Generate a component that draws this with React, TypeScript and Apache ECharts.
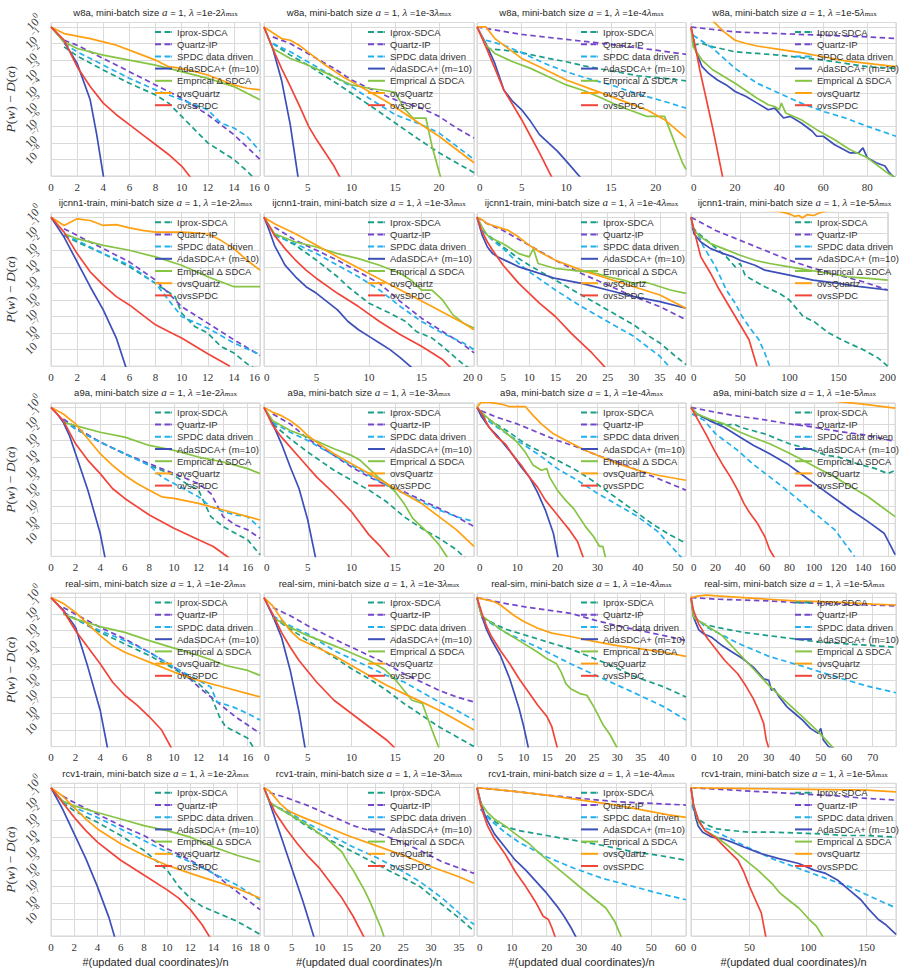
import React, { useEffect, useRef } from 'react';
import * as echarts from 'echarts';

// ---------- labels ----------
const SERIES_NAMES = ['Iprox-SDCA', 'Quartz-IP', 'SPDC data driven', 'AdaSDCA+ (m=10)', 'Emprical Δ SDCA', 'ovsQuartz', 'ovsSPDC'];
const SERIES_COLORS = ['#1a9e88', '#7446c9', '#22b0ee', '#3d4fb8', '#86c443', '#ffa010', '#f2453a'];
const SERIES_DASHED = [true, true, true, false, false, false, false];
const DATASETS = ['w8a', 'ijcnn1-train', 'a9a', 'real-sim', 'rcv1-train'];
const LAMBDAS = ['1e-2', '1e-3', '1e-4', '1e-5'];
const X_MAX = [[16, 24, 23.4, 93], [16, 20, 40, 200], [17, 24, 52, 166], [17, 24, 44.7, 79], [18, 37.7, 60, 175]];
const X_STEP = [[2, 5, 5, 20], [2, 5, 5, 50], [2, 5, 10, 20], [2, 5, 5, 10], [2, 5, 10, 50]];
const Y_EXP_MIN = -9; // 10^-9
const Y_EXP_MAX = 0.27;

// ---------- data: [x, log10(P(w)-D(alpha))], order = SERIES_NAMES ----------
const w8a_1e2 = [
  [[1,-1.2],[2,-1.75],[4,-2.6],[6,-3.4],[8,-4.1],[9,-4.6],[10,-5.4],[11,-6.2],[12,-7.0],[13,-7.5],[14,-8.0],[15,-8.7],[15.5,-9.1]],
  [[1,-0.8],[2,-1.1],[4,-1.9],[6,-2.7],[8,-3.5],[10,-4.3],[12,-5.3],[14,-6.5],[16,-8.0]],
  [[1,-1.0],[2,-1.5],[4,-2.3],[6,-3.1],[8,-3.8],[10,-4.4],[12,-5.0],[13,-5.8],[14,-6.1],[15,-6.6],[16,-7.5]],
  [[0,0],[1,-0.9],[2,-2.2],[3,-4.4],[3.5,-6.5],[4.05,-9.2]],
  [[0,0],[1,-0.9],[2,-1.3],[4,-1.7],[6,-2.0],[8,-2.3],[10,-2.7],[12,-3.1],[14,-3.6],[16,-4.4]],
  [[0,0],[1,-0.4],[2,-0.55],[3,-0.7],[4,-0.9],[5,-1.1],[6,-1.4],[7,-1.7],[8,-2.0],[9,-2.4],[10,-2.5],[11,-2.7],[12,-2.9],[13,-3.2],[14,-3.5],[15,-3.7],[16,-3.8]],
  [[0,0],[1,-0.8],[2,-2.4],[3,-3.6],[4,-4.6],[5,-5.3],[6,-5.9],[7,-6.5],[8,-7.1],[9,-7.7],[10,-8.4],[10.7,-9.1]],
];
const w8a_1e3 = [
  [[1,-1.0],[3,-1.7],[5,-2.3],[8,-3.3],[10,-4.0],[12,-4.7],[15,-5.8],[18,-6.9],[20,-7.6],[22,-8.2],[24,-8.8]],
  [[1,-0.6],[3,-1.0],[5,-1.6],[8,-2.5],[10,-3.2],[12,-3.7],[15,-4.4],[18,-4.9],[20,-5.4],[22,-6.1],[24,-6.7]],
  [[1,-1.0],[3,-1.5],[5,-2.1],[8,-3.0],[10,-3.6],[12,-4.3],[15,-5.3],[18,-5.9],[20,-6.4],[22,-7.2],[24,-8.0]],
  [[0,0],[1,-1.3],[2,-3.2],[3,-5.9],[3.9,-9.1]],
  [[0,0],[1,-1.3],[3,-1.9],[5,-2.3],[8,-3.0],[10,-3.5],[12,-3.7],[14,-3.85],[15,-3.95],[16,-4.9],[17,-5.5],[18.5,-5.5],[19.2,-7.2],[20.2,-9.1]],
  [[0,0],[1,-0.35],[2,-0.7],[3,-0.8],[4,-1.1],[5,-1.5],[7,-2.3],[9,-3.0],[10,-3.3],[12,-3.9],[14,-4.5],[16,-5.2],[18,-5.9],[20,-6.6],[22,-7.4],[24,-8.2]],
  [[0,0],[1,-1.3],[2,-2.5],[2.84,-3.4],[4,-4.7],[5.1,-6.0],[6,-6.8],[7,-7.6],[8,-8.4],[8.7,-9.1]],
];
const w8a_1e4 = [
  [[1,-1.3],[3,-1.4],[5,-1.55],[8,-1.9],[10,-2.1],[12,-2.35],[15,-2.65],[18,-2.95],[21,-3.1],[23.4,-3.25]],
  [[0,0],[5,-0.45],[10,-0.75],[15,-1.05],[20,-1.4],[23.4,-1.65]],
  [[1,-0.8],[3,-1.1],[5,-1.55],[8,-2.3],[10,-2.7],[12,-3.05],[15,-3.5],[18,-4.05],[21,-4.5],[23.4,-4.9]],
  [[0,0],[1,-1.0],[2,-2.2],[3,-3.8],[4,-4.5],[5,-5.0],[6,-5.7],[7,-6.5],[8,-7.0],[9,-7.5],[10,-8.1],[11.6,-9.1]],
  [[0,0],[1,-1.1],[2,-1.6],[4,-2.1],[6,-2.5],[8,-3.0],[10,-3.5],[12,-3.85],[14,-4.3],[16,-4.8],[18,-5.2],[19,-5.4],[21,-5.4],[22,-6.8],[23,-8.2],[23.4,-8.6]],
  [[0,0],[1,0],[2,-0.7],[3,-1.1],[5,-1.9],[7,-2.4],[10,-3.2],[13,-3.8],[16,-4.4],[19,-5.0],[21,-5.6],[23.4,-6.7]],
  [[0,0],[1,-1.2],[2,-2.5],[3,-3.8],[4,-4.7],[5,-5.6],[6,-6.6],[7,-7.6],[8.4,-9.1]],
];
const w8a_1e5 = [
  [[1,-1.1],[5,-1.0],[10,-1.2],[20,-1.5],[30,-1.6],[40,-1.7],[50,-1.85],[60,-2.0],[70,-2.2],[80,-2.4],[93,-2.5]],
  [[0,0],[20,-0.3],[40,-0.4],[60,-0.5],[80,-0.6],[93,-0.7]],
  [[1,-0.5],[10,-1.3],[20,-2.5],[30,-3.4],[40,-4.0],[50,-4.6],[60,-5.1],[70,-5.5],[80,-6.0],[93,-6.6]],
  [[0,0],[2,-1.4],[5,-2.4],[8,-2.8],[12,-3.2],[16,-3.5],[20,-3.9],[25,-4.2],[30,-4.6],[35,-5.0],[38,-4.9],[42,-5.5],[45,-5.4],[50,-5.8],[55,-6.3],[57,-6.6],[60,-6.6],[65,-7.1],[72,-7.6],[76,-7.6],[78,-7.3],[80,-7.9],[84,-8.2],[88,-8.4],[90,-8.8],[93,-9.2]],
  [[0,0],[1,-1.2],[3,-1.6],[5,-2.0],[10,-2.6],[20,-3.4],[30,-4.3],[35,-4.7],[38,-4.8],[40,-5.0],[41,-4.6],[43,-5.2],[50,-5.6],[57,-6.2],[65,-6.8],[72,-7.4],[80,-7.9],[90,-8.9],[93,-9.1]],
  [[0,1.2],[5,0.8],[10,0.35],[15,-0.3],[20,-0.8],[25,-1.0],[30,-1.15],[40,-1.35],[50,-1.55],[60,-1.8],[70,-2.05],[80,-2.2],[93,-2.4]],
  [[0,0],[1,-0.6],[2,-1.2],[4,-2.6],[6,-3.8],[8,-5.0],[10,-6.2],[12,-7.5],[14.4,-9.1]],
];
const ijcnn1_1e2 = [
  [[1,-1.1],[2,-1.5],[4,-2.2],[6,-3.0],[8,-4.0],[9.5,-4.8],[10,-5.8],[11,-6.6],[12,-7.0],[13,-7.8],[14,-8.2],[15,-8.85],[15.5,-9.1]],
  [[1,-0.7],[2,-1.1],[4,-1.9],[6,-2.7],[8,-3.8],[10,-5.4],[12,-6.4],[14,-7.4],[16,-8.35]],
  [[1,-1.1],[2,-1.4],[4,-2.2],[6,-2.9],[8,-4.0],[10,-6.0],[12,-6.7],[14,-7.6],[16,-8.3]],
  [[0,0],[1,-1.2],[2,-2.7],[3,-4.2],[4,-5.6],[5,-7.3],[5.75,-9.1]],
  [[1,-1.0],[2,-1.3],[4,-1.7],[6,-2.0],[8,-2.4],[10,-2.9],[12,-3.6],[13,-3.9],[14,-4.2],[16,-4.2]],
  [[0,0],[1,-0.5],[2,-0.1],[3,-0.2],[4,-0.5],[5,-0.45],[6,-0.65],[7,-0.8],[8,-0.9],[9,-0.9],[10,-0.9],[11,-0.95],[12,-1.0],[13,-1.4],[14,-1.9],[15,-2.6],[16,-3.2]],
  [[0,0],[1,-0.9],[2,-2.2],[3,-3.3],[4,-4.1],[5,-4.8],[6,-5.3],[7,-5.9],[8,-6.5],[9,-6.9],[10,-7.3],[12,-8.25],[13.7,-9.0]],
];
const ijcnn1_1e3 = [
  [[1,-1.0],[3,-1.7],[5,-2.6],[7,-3.6],[8,-4.2],[10,-5.2],[12,-5.8],[13.5,-6.3],[14.5,-6.9],[16,-7.3],[17,-7.8],[19,-8.9],[19.5,-9.1]],
  [[1,-0.6],[3,-1.4],[5,-2.0],[7,-2.6],[9,-3.3],[11,-4.0],[13,-5.1],[15,-6.1],[17,-6.9],[19,-7.7],[20,-8.2]],
  [[1,-1.1],[3,-1.6],[5,-2.2],[7,-2.9],[9,-3.6],[11,-4.4],[13,-5.4],[15,-6.3],[17,-7.0],[19,-7.6],[20,-8.0]],
  [[0,0],[0.5,-0.8],[1,-1.7],[2,-2.9],[3,-3.6],[4,-4.2],[5,-4.6],[6,-5.1],[7,-5.6],[8,-6.3],[9,-6.8],[10,-7.2],[11,-7.6],[12,-8.0],[13,-8.5],[14.1,-9.1]],
  [[0,0],[1,-1.0],[3,-1.5],[5,-1.8],[7,-2.2],[9,-2.5],[11,-2.9],[13,-3.4],[14,-3.8],[15,-4.4],[16,-4.4],[17,-5.0],[18,-5.9],[19,-6.4],[20,-6.7]],
  [[0,0],[1,-0.4],[3,-1.0],[5,-1.7],[7,-2.4],[10,-3.4],[13,-4.4],[16,-5.4],[19,-6.4],[20,-6.8]],
  [[0,0],[1,-1.1],[2,-1.9],[3,-2.6],[4,-3.2],[5,-3.7],[7,-4.6],[9,-5.4],[11,-6.3],[13,-7.1],[15,-7.8],[17,-8.6],[17.8,-9.1]],
];
const ijcnn1_1e4 = [
  [[1,-0.8],[3,-1.3],[5,-1.8],[8,-2.5],[10,-2.9],[15,-3.8],[20,-4.7],[25,-5.6],[30,-6.5],[33,-7.2],[35,-7.6],[38,-8.4],[40,-8.9]],
  [[0,0],[2,-0.4],[5,-0.8],[10,-1.7],[15,-2.6],[20,-3.4],[25,-4.1],[30,-4.8],[35,-5.4],[40,-6.2]],
  [[1,-0.8],[3,-1.4],[5,-1.9],[8,-2.8],[10,-3.3],[15,-4.4],[20,-5.4],[25,-6.3],[30,-7.2],[35,-8.4],[37,-9.1]],
  [[0,0],[1,-1.1],[2,-1.8],[3,-2.2],[4,-2.4],[6,-2.7],[8,-3.0],[10,-3.2],[15,-3.7],[20,-4.0],[25,-4.4],[30,-4.8],[35,-5.1],[40,-5.5]],
  [[0,0],[1,-0.6],[2,-1.1],[3,-1.3],[5,-1.6],[8,-2.2],[10,-2.4],[10.8,-1.9],[11.7,-2.8],[15,-3.1],[18,-3.2],[21,-3.3],[23,-3.4],[25,-3.6],[28,-3.8],[30,-4.0],[32,-3.9],[34,-4.1],[37,-4.4],[40,-4.6]],
  [[0,0],[1,-0.15],[2,-0.4],[4,-0.6],[6,-0.8],[8,-1.2],[10,-1.7],[12,-2.1],[15,-2.6],[20,-3.2],[25,-3.7],[30,-4.2],[35,-4.7],[40,-5.5]],
  [[0,0],[1,-0.9],[2,-1.5],[3,-2.0],[5,-2.9],[8,-4.0],[10,-4.6],[12,-5.2],[15,-6.0],[18,-7.0],[20,-7.6],[22,-8.2],[24.6,-9.1]],
];
const ijcnn1_1e5 = [
  [[1,-0.6],[10,-1.1],[20,-1.6],[30,-2.1],[36,-2.4],[45,-3.0],[50,-2.8],[55,-3.5],[60,-3.7],[75,-4.2],[90,-4.6],[100,-5.0],[114,-6.0],[125,-6.3],[140,-7.0],[160,-7.6],[175,-8.0],[190,-8.5],[200,-9.0]],
  [[0,0],[25,-0.8],[50,-1.4],[75,-2.0],[100,-2.6],[125,-3.1],[150,-3.5],[175,-3.9],[200,-4.4]],
  [[1,-0.7],[7,-1.0],[12,-1.7],[17,-2.2],[25,-3.0],[36,-4.4],[45,-5.2],[52,-6.0],[60,-6.7],[69,-7.4],[75,-8.2],[80,-9.0]],
  [[0,0],[3,-1.0],[10,-1.5],[20,-1.9],[33,-2.2],[43,-2.4],[50,-2.6],[65,-2.9],[75,-3.2],[100,-3.5],[124,-3.8],[150,-4.0],[172,-4.2],[200,-4.4]],
  [[0,0],[3,-0.8],[10,-1.2],[20,-1.6],[33,-1.9],[50,-2.3],[65,-2.6],[80,-2.8],[100,-3.0],[120,-3.2],[140,-3.4],[160,-3.6],[180,-3.7],[200,-3.8]],
  [[0,0.6],[50,0.5],[90,0.35],[100,0.2],[105,0.05],[110,0.1],[113,-0.05],[118,0.15],[125,0.1],[130,0.25],[140,0.4],[200,0.5]],
  [[0,0],[4,-1.0],[10,-2.4],[20,-3.4],[27,-4.2],[35,-5.0],[43,-5.8],[50,-6.5],[59,-7.4],[67,-9.0]],
];
const a9a_1e2 = [
  [[1,-0.8],[2,-1.3],[4,-2.1],[6,-2.8],[8,-3.5],[10,-4.1],[11,-4.6],[12,-5.0],[13,-6.6],[14,-7.2],[15,-7.6],[16,-8.0],[17,-8.9]],
  [[1,-0.7],[2,-1.2],[4,-2.1],[6,-2.8],[8,-3.4],[10,-4.0],[12,-4.6],[13,-5.2],[14,-6.6],[15,-7.1],[16,-7.4],[17,-7.9]],
  [[1,-0.8],[2,-1.3],[4,-2.1],[6,-2.8],[8,-3.5],[9,-4.2],[10,-4.6],[12,-5.4],[13,-6.0],[14,-6.3],[15,-6.5],[16,-6.6],[17,-7.3]],
  [[0,0],[0.5,-0.4],[1,-0.9],[1.5,-1.7],[2,-2.8],[3,-5.0],[4,-7.6],[4.4,-9.1]],
  [[1,-0.9],[2,-1.1],[4,-1.5],[6,-1.8],[8,-2.3],[10,-2.6],[12,-3.0],[14,-3.3],[16,-3.7],[17,-4.0]],
  [[0,0],[1,-0.4],[2,-1.0],[3,-1.9],[4,-2.8],[5,-3.5],[6,-4.1],[7,-4.6],[8,-5.0],[9,-5.4],[10,-5.5],[12,-5.8],[14,-6.2],[16,-6.6],[17,-6.8]],
  [[0,0],[1,-0.8],[2,-2.2],[3,-3.2],[4,-4.0],[5,-4.9],[6,-5.5],[8,-6.5],[10,-7.3],[12,-8.0],[13.2,-8.4],[14.5,-9.1]],
];
const a9a_1e3 = [
  [[1,-1.0],[3,-1.9],[5,-2.7],[8,-3.8],[10,-4.4],[12,-5.0],[14,-5.7],[16,-6.6],[18,-7.3],[20,-7.9],[22,-8.6],[23,-9.1]],
  [[1,-0.4],[3,-1.0],[5,-1.9],[8,-2.9],[10,-3.6],[12,-4.2],[14,-4.7],[16,-5.1],[18,-5.6],[20,-6.1],[22,-6.6],[24,-7.2]],
  [[1,-0.9],[3,-1.5],[5,-2.0],[8,-2.9],[10,-3.5],[12,-4.1],[14,-4.7],[16,-5.2],[18,-5.7],[20,-6.2],[22,-6.6],[24,-6.9]],
  [[0,0],[1,-1.0],[2,-2.2],[3,-3.6],[4,-4.9],[5,-6.8],[5.9,-9.1]],
  [[0,0],[1,-0.8],[3,-1.4],[5,-1.8],[8,-2.5],[10,-2.9],[11,-3.2],[12,-3.7],[13,-4.2],[14,-4.6],[15,-5.1],[16,-5.8],[17,-6.7],[18,-7.2],[19,-7.7],[20,-8.3],[21,-9.1]],
  [[0,0],[1,-0.3],[2,-0.5],[3,-0.8],[4,-1.2],[5,-1.7],[6,-2.1],[8,-2.8],[10,-3.4],[12,-4.0],[14,-4.6],[16,-5.2],[18,-5.8],[20,-6.6],[22,-7.4],[24,-8.4]],
  [[0,0],[1,-1.1],[2,-1.8],[4,-3.0],[6,-4.2],[8,-5.2],[10,-6.3],[11,-7.0],[12,-7.7],[13.3,-8.4],[14.4,-9.1]],
];
const a9a_1e4 = [
  [[1,-0.4],[4,-0.9],[8,-1.5],[12,-2.2],[16,-2.7],[20,-3.2],[24,-3.7],[28,-4.3],[32,-5.0],[36,-5.7],[40,-6.4],[44,-7.1],[48,-7.7],[52,-8.2]],
  [[1,-0.2],[5,-0.6],[10,-1.0],[15,-1.5],[20,-2.0],[25,-2.4],[30,-2.9],[35,-3.3],[40,-3.8],[45,-4.3],[52,-5.0]],
  [[1,-0.5],[5,-1.2],[10,-2.0],[15,-2.8],[20,-3.7],[25,-4.4],[30,-5.2],[35,-5.9],[40,-6.6],[45,-7.5],[51,-9.1]],
  [[0,0],[1,-0.5],[3,-1.2],[5,-1.7],[7,-2.3],[9,-2.9],[11,-3.6],[13,-4.2],[15,-5.1],[17,-6.2],[19,-7.6],[20.2,-9.1]],
  [[0,0],[2,-0.5],[5,-1.1],[8,-1.7],[10,-2.1],[12,-2.7],[14,-3.5],[16,-3.8],[17.4,-3.7],[18,-4.2],[20,-5.0],[22,-5.6],[24,-6.1],[27,-7.2],[29,-7.8],[30.5,-8.4],[31.3,-8.4],[32,-9.1]],
  [[0,0],[1,0.3],[3,0.3],[6,0.2],[8,0.05],[10,0.05],[12,0.05],[14,-0.5],[16,-1.0],[19,-1.6],[23,-2.1],[27,-2.6],[31,-3.0],[35,-3.4],[40,-3.8],[45,-4.1],[52,-4.4]],
  [[0,0],[1,-0.3],[3,-1.2],[5,-1.8],[7,-2.2],[9,-2.9],[11,-3.5],[13,-4.2],[15,-4.8],[17,-5.6],[19,-6.2],[21,-6.8],[23,-7.4],[25,-8.1],[26.5,-9.1]],
];
const a9a_1e5 = [
  [[1,-0.4],[10,-0.6],[20,-0.9],[28,-1.1],[35,-1.0],[40,-1.2],[50,-1.4],[60,-1.6],[70,-1.9],[80,-2.2],[90,-2.4],[100,-2.6],[110,-2.9],[120,-3.0],[135,-3.4],[150,-3.7],[160,-4.0],[166,-3.8]],
  [[0,0],[20,-0.3],[40,-0.55],[60,-0.75],[80,-1.0],[100,-1.2],[120,-1.45],[140,-1.65],[166,-2.05]],
  [[1,-0.4],[11,-0.8],[20,-1.6],[38,-2.6],[50,-3.4],[64,-4.2],[78,-5.0],[91,-5.8],[104,-6.6],[117,-7.4],[125,-8.2],[133,-9.0]],
  [[0,0],[5,-0.4],[15,-0.8],[27,-1.2],[40,-1.8],[51,-2.3],[64,-2.8],[78,-3.4],[91,-4.1],[104,-4.8],[117,-5.5],[130,-6.2],[144,-6.9],[157,-7.6],[162,-8.3],[166,-8.9]],
  [[0,0],[5,-0.4],[15,-0.7],[27,-1.0],[40,-1.5],[50,-1.8],[64,-2.2],[78,-2.7],[91,-3.2],[104,-3.7],[117,-4.2],[130,-4.8],[144,-5.4],[155,-6.0],[166,-6.6]],
  [[0,1.2],[40,0.9],[80,0.65],[120,0.35],[140,0.2],[166,-0.05]],
  [[0,0],[3,-0.4],[6,-0.8],[12,-1.6],[19,-2.6],[26,-3.5],[32,-4.2],[38,-5.0],[43,-5.8],[48,-6.4],[54,-7.0],[60,-7.8],[64,-8.6],[68,-9.1]],
];
const realsim_1e2 = [
  [[1,-0.9],[2,-1.3],[4,-2.1],[6,-2.8],[8,-3.5],[10,-4.3],[12,-5.2],[13,-5.9],[13.7,-7.2],[14.2,-7.8],[15,-8.1],[16,-8.5],[16.5,-9.1]],
  [[1,-0.6],[2,-1.0],[4,-1.8],[6,-2.5],[8,-3.3],[10,-4.2],[11,-4.7],[12,-5.4],[13,-6.0],[14,-6.6],[15,-7.2],[16,-7.7],[17,-8.2]],
  [[1,-0.9],[2,-1.3],[4,-2.0],[6,-2.6],[8,-3.3],[10,-4.2],[12,-5.0],[13,-5.4],[13.5,-6.3],[14.8,-6.6],[16,-7.0],[17,-7.4]],
  [[0,0],[1,-0.75],[2,-1.8],[3,-4.2],[4,-6.8],[4.6,-9.1]],
  [[1,-1.0],[2,-1.3],[4,-1.75],[6,-2.1],[8,-2.6],[10,-3.05],[12,-3.5],[13.2,-3.8],[14.2,-4.1],[16,-4.4],[17,-4.7]],
  [[0,0],[1,-0.35],[2,-0.9],[3,-1.6],[4,-2.3],[5,-2.9],[6,-3.3],[7,-3.6],[8,-3.9],[10,-4.5],[12,-5.0],[14,-5.4],[16,-5.8],[17,-6.0]],
  [[0,0],[1,-0.8],[2,-2.0],[3,-3.0],[4,-4.0],[5,-5.1],[6,-5.9],[7,-6.5],[8,-7.2],[9,-8.0],[9.8,-9.1]],
];
const realsim_1e3 = [
  [[1,-1.2],[3,-1.9],[5,-2.6],[8,-3.6],[10,-4.3],[12,-4.9],[14,-5.6],[16,-6.4],[18,-7.1],[20,-7.8],[22,-8.4],[24,-9.0]],
  [[1,-0.6],[3,-1.1],[5,-1.7],[8,-2.5],[10,-3.0],[12,-3.5],[14,-4.0],[16,-4.6],[18,-5.1],[20,-5.6],[22,-6.0],[24,-6.3]],
  [[1,-1.1],[3,-1.7],[5,-2.2],[8,-3.2],[10,-3.7],[12,-4.2],[14,-4.7],[16,-5.1],[18,-5.7],[20,-6.3],[22,-6.8],[24,-7.4]],
  [[0,0],[1,-1.1],[2,-2.4],[3,-4.4],[4,-6.9],[4.7,-9.1]],
  [[1,-1.2],[3,-1.8],[5,-2.3],[8,-2.9],[10,-3.35],[12,-3.8],[13.8,-4.35],[15,-4.95],[16.9,-6.2],[18.1,-6.4],[19.2,-8.0],[20,-9.1]],
  [[0,0],[1,-0.5],[2,-1.3],[3,-2.0],[4,-2.5],[6,-3.0],[8,-3.5],[10,-4.1],[12,-4.7],[14,-5.3],[16,-5.8],[18,-6.3],[20,-6.8],[22,-7.4],[24,-8.0]],
  [[0,0],[1,-1.0],[2,-2.1],[3,-3.0],[4,-3.8],[6,-5.1],[8,-6.2],[10,-7.0],[12,-7.8],[14,-8.6],[15,-9.1]],
];
const realsim_1e4 = [
  [[1,-1.2],[6,-1.9],[13,-2.5],[20,-3.1],[27,-3.9],[34,-4.8],[40,-5.4],[44.7,-6.0]],
  [[0,0],[5,-0.3],[10,-0.55],[15,-0.75],[20,-0.95],[25,-1.35],[30,-1.7],[35,-2.0],[40,-2.3],[44.7,-2.6]],
  [[1,-1.2],[6,-2.1],[13,-3.0],[20,-4.0],[27,-4.9],[34,-5.8],[40,-6.6],[44.7,-7.4]],
  [[0,0],[0.5,-0.6],[1,-1.1],[2,-1.9],[3,-2.5],[4,-3.0],[5,-3.5],[6,-4.2],[7,-4.9],[8,-5.8],[9,-6.7],[10,-7.8],[11,-9.1]],
  [[0,0],[1,-1.1],[3,-1.5],[6,-2.1],[9,-2.6],[13,-3.3],[15,-3.7],[17,-4.0],[18,-4.5],[19,-5.2],[20,-5.5],[22,-5.8],[23.5,-5.9],[25,-6.6],[27,-7.7],[28.5,-8.3],[30,-9.1]],
  [[0,0],[3.7,-0.25],[5,-0.45],[8,-1.1],[10,-1.45],[13,-1.85],[16,-2.15],[20,-2.35],[25,-2.65],[30,-2.9],[35,-3.1],[40,-3.3],[44.7,-3.55]],
  [[0,0],[1,-0.9],[2,-1.7],[3,-2.3],[5,-3.2],[7,-4.0],[9,-4.9],[11,-5.7],[13,-6.5],[15,-7.2],[16,-7.8],[17.2,-9.1]],
];
const realsim_1e5 = [
  [[1,-1.2],[5,-1.6],[10,-1.8],[20,-2.1],[30,-2.3],[40,-2.5],[50,-2.7],[60,-2.8],[70,-2.9],[79,-3.0]],
  [[0,0],[10,-0.1],[20,-0.15],[30,-0.2],[40,-0.3],[50,-0.35],[60,-0.4],[70,-0.45],[79,-0.5]],
  [[1,-1.1],[5,-1.7],[10,-2.1],[18,-2.75],[30,-3.55],[43,-4.15],[55,-4.75],[68,-5.35],[79,-5.75]],
  [[0,0],[1,-1.2],[3,-1.95],[5,-2.2],[8,-2.4],[12,-2.9],[16,-3.3],[20,-3.7],[24,-4.2],[28,-4.9],[30,-5.0],[31,-5.6],[32,-5.5],[34,-6.0],[37,-6.6],[40,-7.0],[43,-7.4],[46,-7.9],[49,-8.2],[50,-7.9],[51,-8.6],[53,-9.0],[55,-9.1]],
  [[0,0],[1,-1.2],[5,-1.6],[12,-2.3],[18,-3.3],[24,-4.3],[30,-5.3],[36,-6.2],[43,-7.2],[49,-8.1],[55,-9.1]],
  [[0,0],[3,0.1],[6,0.15],[10,0.1],[20,0.0],[30,-0.1],[40,-0.2],[50,-0.25],[60,-0.3],[70,-0.4],[79,-0.45]],
  [[0,0],[1,-0.8],[3,-1.6],[6,-2.4],[9,-3.0],[13,-3.8],[18,-4.6],[21,-5.3],[24,-6.1],[26,-6.8],[28,-7.6],[29,-8.6],[30,-9.1]],
];
const rcv1_1e2 = [
  [[1,-0.9],[2,-1.4],[4,-2.1],[6,-2.9],[8,-3.8],[9,-4.4],[10,-5.0],[11,-6.0],[12,-6.7],[13,-7.2],[14,-7.5],[16,-8.1],[18,-8.9]],
  [[1,-0.5],[2,-0.9],[4,-1.6],[6,-2.3],[8,-2.9],[10,-3.7],[12,-4.4],[14,-5.2],[16,-6.3],[18,-7.4]],
  [[1,-0.8],[2,-1.2],[4,-1.8],[6,-2.5],[8,-3.2],[10,-3.9],[12,-4.5],[14,-5.2],[16,-5.9],[18,-6.8]],
  [[0,0],[1,-1.3],[2,-2.8],[3,-4.3],[4,-6.0],[5,-7.9],[5.5,-9.1]],
  [[0,0],[1,-0.8],[2,-1.1],[4,-1.5],[6,-1.9],[8,-2.3],[10,-2.6],[12,-3.0],[14,-3.6],[16,-4.1],[18,-4.5]],
  [[0,0],[1,-0.5],[2,-1.2],[3,-1.9],[4,-2.5],[6,-3.4],[8,-4.1],[10,-4.7],[12,-5.2],[14,-5.65],[16,-6.1],[18,-6.7]],
  [[0,0],[1,-0.9],[2,-1.8],[3,-2.6],[4,-3.3],[6,-4.4],[8,-5.3],[10,-6.2],[11,-6.7],[12,-7.4],[13,-8.3],[13.7,-9.1]],
];
const rcv1_1e3 = [
  [[1,-0.9],[4,-1.5],[8,-2.4],[12,-3.2],[16,-3.9],[20,-4.6],[24,-5.3],[28,-6.0],[32,-7.1],[35,-7.9],[37.7,-8.7]],
  [[1,-0.3],[4,-0.6],[8,-1.1],[12,-1.7],[16,-2.3],[20,-2.7],[24,-3.2],[28,-3.8],[32,-4.5],[37.7,-5.2]],
  [[1,-1.0],[4,-1.4],[8,-2.2],[12,-2.9],[16,-3.6],[20,-4.2],[24,-4.9],[28,-5.7],[32,-6.7],[35,-7.6],[37.7,-8.3]],
  [[0,0],[1,-0.9],[2,-1.9],[3,-2.9],[4,-3.9],[5,-4.9],[6,-5.9],[7,-6.9],[8,-8.0],[9,-9.1]],
  [[0,0],[1,-0.9],[3,-1.3],[5,-1.7],[8,-2.3],[10,-2.8],[12,-3.3],[14,-3.9],[15,-4.5],[16,-5.0],[17,-5.6],[18,-6.2],[19,-6.9],[20,-7.7],[21,-8.5],[21.6,-9.1]],
  [[0,0],[1,-0.2],[2,-0.6],[3,-1.0],[4,-1.3],[5,-1.5],[7,-1.8],[10,-2.2],[15,-2.9],[20,-3.5],[25,-4.1],[30,-4.8],[35,-5.4],[37.7,-5.8]],
  [[0,0],[1,-0.8],[2,-1.5],[4,-2.5],[6,-3.4],[8,-4.2],[10,-4.9],[12,-5.8],[14,-6.7],[16,-7.8],[18,-9.1]],
];
const rcv1_1e4 = [
  [[1,-1.3],[4,-1.9],[7,-2.3],[12,-2.6],[20,-2.9],[28,-3.2],[36,-3.5],[45,-3.9],[52,-4.1],[60,-4.4]],
  [[0,0],[10,-0.2],[20,-0.45],[30,-0.65],[40,-0.85],[50,-0.95],[60,-1.05]],
  [[1,-1.3],[4,-2.0],[8,-2.7],[12,-3.3],[20,-4.2],[28,-4.9],[36,-5.5],[45,-6.0],[52,-6.4],[60,-6.8]],
  [[0,0],[1,-0.8],[2,-1.5],[3,-2.0],[5,-2.8],[8,-3.6],[11,-4.4],[14,-5.0],[17,-5.7],[20,-6.4],[23,-7.2],[25,-7.8],[27,-8.5],[28.5,-9.1]],
  [[0,0],[1,-0.9],[3,-1.5],[5,-1.9],[8,-2.3],[11,-2.8],[15,-3.4],[18,-4.0],[22,-4.7],[26,-5.4],[30,-6.1],[34,-6.8],[37,-7.3],[39.5,-8.1],[41.5,-9.1]],
  [[0,0],[5,-0.1],[10,-0.2],[20,-0.45],[30,-0.75],[40,-1.05],[45,-1.25],[50,-1.45],[55,-1.65],[60,-1.8]],
  [[0,0],[1,-1.0],[2,-1.7],[3,-2.3],[5,-3.1],[8,-4.0],[11,-5.1],[14,-6.0],[17,-7.0],[19,-7.8],[20.5,-8.0],[21.5,-8.5],[22.5,-9.1]],
];
const rcv1_1e5 = [
  [[1,-1.0],[4,-1.6],[8,-2.0],[15,-2.3],[22,-2.5],[35,-2.6],[50,-2.7],[70,-2.7],[92,-2.75],[110,-2.8],[130,-2.9],[150,-2.9],[175,-3.0]],
  [[0,0],[25,-0.1],[50,-0.2],[75,-0.3],[100,-0.4],[125,-0.5],[150,-0.65],[175,-0.75]],
  [[1,-1.1],[5,-1.9],[10,-2.4],[22,-2.7],[45,-3.5],[69,-4.3],[92,-4.9],[115,-5.5],[135,-6.0],[150,-6.5],[175,-7.3]],
  [[0,0],[2,-1.0],[4,-1.8],[6,-2.3],[10,-2.7],[18,-3.0],[27,-3.1],[35,-3.3],[45,-3.6],[60,-4.0],[75,-4.3],[92,-4.6],[105,-5.0],[115,-5.2],[125,-5.6],[135,-6.2],[145,-6.8],[152,-7.4],[160,-8.0],[166,-8.3],[175,-8.9]],
  [[0,0],[2,-1.0],[6,-2.0],[12,-2.6],[22,-3.0],[33,-3.6],[45,-4.3],[57,-5.0],[69,-5.8],[76,-6.4],[83,-6.8],[92,-7.3],[101,-8.0],[107,-8.4],[113,-9.1]],
  [[0,0],[50,-0.05],[100,-0.1],[150,-0.15],[175,-0.25]],
  [[0,0],[2,-1.0],[6,-1.9],[12,-2.6],[22,-3.1],[30,-3.7],[40,-4.4],[45,-5.1],[50,-6.0],[55,-6.8],[60,-7.6],[64,-9.1]],
];

const PANELS = [
  w8a_1e2, w8a_1e3, w8a_1e4, w8a_1e5,
  ijcnn1_1e2, ijcnn1_1e3, ijcnn1_1e4, ijcnn1_1e5,
  a9a_1e2, a9a_1e3, a9a_1e4, a9a_1e5,
  realsim_1e2, realsim_1e3, realsim_1e4, realsim_1e5,
  rcv1_1e2, rcv1_1e3, rcv1_1e4, rcv1_1e5,
];

// ---------- layout ----------
const COL_LEFT = [51, 264, 477, 691];
const COL_W = [209, 210, 209, 207];
const ROW_TOP0 = 22.5;
const ROW_PITCH = 190.2;
const PLOT_H = 153.5;

const GRID_COLOR = '#dadada';
const TEXT_COLOR = '#262626';
const ICON_SOLID = 'path://M0,0h17v2h-17z';
const ICON_DASHED = 'path://M0,0h6v2h-6z M9.5,0h6v2h-6z M16.2,0h0.8v2h-0.8z';

function buildOption() {
  const grid: any[] = [];
  const xAxis: any[] = [];
  const yAxis: any[] = [];
  const series: any[] = [];
  const legend: any[] = [];
  const title: any[] = [];

  PANELS.forEach((panel, idx) => {
    const r = Math.floor(idx / 4);
    const c = idx % 4;
    const left = COL_LEFT[c];
    const top = ROW_TOP0 + r * ROW_PITCH;
    const width = COL_W[c];
    const step = X_STEP[r][c];

    grid.push({ left, top, width, height: PLOT_H, show: true, borderColor: '#d2d2d2', borderWidth: 1, backgroundColor: '#ffffff' });

    xAxis.push({
      gridIndex: idx, type: 'value', min: 0, max: X_MAX[r][c], interval: step,
      axisLine: { show: false }, axisTick: { show: false },
      splitLine: { show: true, lineStyle: { color: GRID_COLOR, width: 1 } },
      axisLabel: {
        show: true, margin: 5, fontFamily: 'Liberation Serif', fontSize: 11, color: '#333',
        showMinLabel: true, showMaxLabel: true, hideOverlap: false,
        alignMinLabel: c > 0 ? 'left' : 'center',
        alignMaxLabel: c < 3 ? 'right' : 'center',
        formatter: (v: number) => (Math.abs(v / step - Math.round(v / step)) < 1e-6 ? String(Math.round(v)) : ''),
      },
      name: r === 4 ? '#(updated dual coordinates)/n' : '',
      nameLocation: 'middle', nameGap: 20,
      nameTextStyle: { fontFamily: 'Liberation Sans', fontSize: 11, color: TEXT_COLOR },
    });

    yAxis.push({
      gridIndex: idx, type: 'value', min: Y_EXP_MIN, max: Y_EXP_MAX, interval: 1,
      axisLine: { show: false }, axisTick: { show: false },
      splitLine: { show: true, lineStyle: { color: GRID_COLOR, width: 1 } },
      axisLabel: {
        show: c === 0, rotate: 45, margin: 18, align: 'center', verticalAlign: 'middle',
        padding: [0, 0, 8, 8],
        formatter: (v: number) => (Number.isInteger(v) ? `{b|10}{s|${v === 0 ? '0' : '−' + String(-v)}}` : ''),
        rich: {
          b: { fontFamily: 'Liberation Serif', fontSize: 11.5, color: '#333', lineHeight: 15, verticalAlign: 'bottom' },
          s: { fontFamily: 'Liberation Serif', fontSize: 8.5, color: '#333', lineHeight: 9, verticalAlign: 'top' },
        },
      },
      name: c === 0 ? '{i|P}{r|(}{i|w}{r|) − }{i|D}{r|(}{i|α}{r|)}' : '',
      nameLocation: 'middle', nameRotate: 90, nameGap: 30,
      nameTextStyle: {
        rich: {
          i: { fontFamily: 'Liberation Serif', fontStyle: 'italic', fontSize: 13.5, color: '#333' },
          r: { fontFamily: 'Liberation Serif', fontSize: 13.5, color: '#333' },
        },
      },
    });

    panel.forEach((pts, k) => {
      series.push({
        type: 'line', name: SERIES_NAMES[k], xAxisIndex: idx, yAxisIndex: idx,
        data: pts, showSymbol: false, symbol: 'none', clip: true, silent: true,
        color: SERIES_COLORS[k],
        lineStyle: { color: SERIES_COLORS[k], width: 1.7, type: SERIES_DASHED[k] ? [5.5, 3.5] : 'solid' },
      });
    });

    legend.push({
      orient: 'vertical', left: left + 104, top: top + 4.5, padding: 0,
      itemWidth: 17, itemHeight: 2, itemGap: 2.2, selectedMode: false,
      itemStyle: { borderWidth: 0 },
      data: SERIES_NAMES.map((n, k) => ({ name: n, icon: SERIES_DASHED[k] ? ICON_DASHED : ICON_SOLID })),
      textStyle: { fontFamily: 'Liberation Sans', fontSize: 9.5, color: '#333', lineHeight: 10, padding: [0, 0, 0, 0] },
    });

    title.push({
      left: left + width / 2, top: top - 19, textAlign: 'center', padding: 0,
      text: `{t|${DATASETS[r]}, mini-batch size }{m|a}{t| = 1, }{m|λ}{t| =${LAMBDAS[c]}}{m|λ}{s|max}`,
      textStyle: {
        fontWeight: 'normal',
        rich: {
          t: { fontFamily: 'Liberation Sans', fontWeight: 'normal', fontSize: 9.5, color: TEXT_COLOR, lineHeight: 14, verticalAlign: 'bottom' },
          m: { fontFamily: 'Liberation Serif', fontWeight: 'normal', fontStyle: 'italic', fontSize: 11, color: TEXT_COLOR, lineHeight: 14, verticalAlign: 'bottom' },
          s: { fontFamily: 'Liberation Serif', fontWeight: 'normal', fontSize: 7, color: TEXT_COLOR, lineHeight: 10, verticalAlign: 'bottom' },
        },
      },
    });
  });

  return { animation: false, backgroundColor: '#ffffff', grid, xAxis, yAxis, series, legend, title };
}

export default function App() {
  const ref = useRef<HTMLDivElement>(null);
  useEffect(() => {
    document.body.style.margin = '0';
    if (!ref.current) return;
    const chart = echarts.init(ref.current, undefined, { renderer: 'svg' });
    chart.setOption(buildOption() as any);
    return () => chart.dispose();
  }, []);
  return <div ref={ref} style={{ width: 899, height: 968 }} />;
}
